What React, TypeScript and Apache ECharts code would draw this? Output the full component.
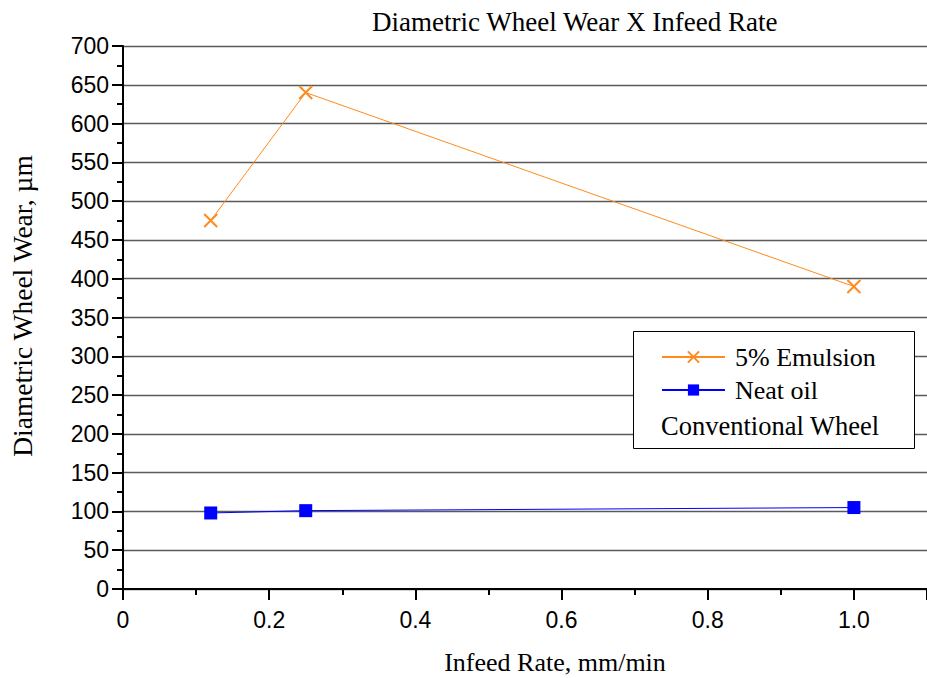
import React, { useEffect, useRef } from "react";
import * as echarts from "echarts";

const infeedRates = [0.12, 0.25, 1.0];
const emulsionWear = [475, 640, 390];
const neatOilWear = [98, 101, 105];
const seriesNames = ["5% Emulsion", "Neat oil"];
const legendNote = "Conventional Wheel";
const titleText = "Diametric Wheel Wear X Infeed Rate";
const xName = "Infeed Rate, mm/min";
const yName = "Diametric Wheel Wear, µm";

const SERIF = "'Liberation Serif', 'Times New Roman', serif";
const SANS = "'Liberation Sans', Arial, sans-serif";
const ORANGE = "#ff8a1e";
const BLUE = "#0000ff";

export default function App() {
  const ref = useRef<HTMLDivElement>(null);
  useEffect(() => {
    if (!ref.current) return;
    const chart = echarts.init(ref.current, undefined, { renderer: "svg" });
    const emulsionData = infeedRates.map((x, i) => [x, emulsionWear[i]]);
    const neatData = infeedRates.map((x, i) => [x, neatOilWear[i]]);
    chart.setOption({
      animation: false,
      backgroundColor: "#ffffff",
      title: {
        text: titleText,
        left: 372,
        top: 8,
        padding: 0,
        textStyle: { fontFamily: SERIF, fontSize: 27, fontWeight: "normal", color: "#000" },
      },
      grid: { left: 123, top: 46, right: -4, bottom: 89, containLabel: false },
      xAxis: {
        type: "value",
        min: 0,
        max: 1.1,
        interval: 0.2,
        axisLine: { show: true, onZero: false, lineStyle: { color: "#000", width: 2 } },
        axisTick: { show: true, inside: false, length: 11, lineStyle: { color: "#000", width: 2 } },
        minorTick: { show: true, splitNumber: 2, length: 6, lineStyle: { color: "#000", width: 2 } },
        axisLabel: {
          margin: 19,
          fontFamily: SANS,
          fontSize: 23,
          color: "#000",
          showMaxLabel: false,
          formatter: (v: number) => (v === 0 ? "0" : v.toFixed(1)),
        },
        splitLine: { show: false },
      },
      yAxis: {
        type: "value",
        min: 0,
        max: 700,
        interval: 50,
        axisLine: { show: true, onZero: false, lineStyle: { color: "#000", width: 2 } },
        axisTick: { show: true, inside: false, length: 11, lineStyle: { color: "#000", width: 2 } },
        minorTick: { show: true, splitNumber: 2, length: 6, lineStyle: { color: "#000", width: 2 } },
        axisLabel: { margin: 14, fontFamily: SANS, fontSize: 23, color: "#000" },
        splitLine: { show: true, lineStyle: { color: "#5a5a5a", width: 1.3 } },
      },
      legend: {
        show: true,
        orient: "vertical",
        left: 661,
        top: 344,
        padding: 0,
        itemWidth: 63,
        itemHeight: 14,
        itemGap: 7,
        z: 6,
        data: seriesNames,
        textStyle: { fontFamily: SERIF, fontSize: 26, color: "#000", lineHeight: 26, padding: [0, 0, 0, 5] },
      },
      graphic: [
        {
          type: "rect",
          z: 5,
          shape: { x: 633.5, y: 331.5, width: 281, height: 117 },
          style: { fill: "#fff", stroke: "#000", lineWidth: 1 },
        },
        {
          type: "text",
          z: 7,
          left: 661,
          top: 412,
          style: { text: legendNote, font: `26.5px ${SERIF}`, fill: "#000" },
        },
        {
          type: "text",
          z: 7,
          x: 555,
          y: 662,
          style: {
            text: xName,
            font: `26px ${SERIF}`,
            fill: "#000",
            textAlign: "center",
            textVerticalAlign: "middle",
          },
        },
        {
          type: "text",
          z: 7,
          x: 22,
          y: 306,
          rotation: Math.PI / 2,
          style: {
            text: yName,
            font: `27.5px ${SERIF}`,
            fill: "#000",
            textAlign: "center",
            textVerticalAlign: "middle",
          },
        },
      ],
      series: [
        {
          name: seriesNames[0],
          type: "line",
          data: emulsionData,
          symbol: "path://M0 0L10 10M10 0L0 10",
          symbolSize: 13,
          showAllSymbol: true,
          lineStyle: { color: ORANGE, width: 1 },
          itemStyle: { color: "none", borderColor: ORANGE, borderWidth: 2 },
          z: 3,
        },
        {
          name: seriesNames[1],
          type: "line",
          data: neatData,
          symbol: "rect",
          symbolSize: 13,
          showAllSymbol: true,
          lineStyle: { color: BLUE, width: 1 },
          itemStyle: { color: BLUE, borderWidth: 0 },
          z: 3,
        },
      ],
    });
    return () => chart.dispose();
  }, []);
  return (
    <div
      ref={ref}
      style={{ position: "absolute", left: 0, top: 0, width: 927, height: 678, background: "#fff" }}
    />
  );
}
